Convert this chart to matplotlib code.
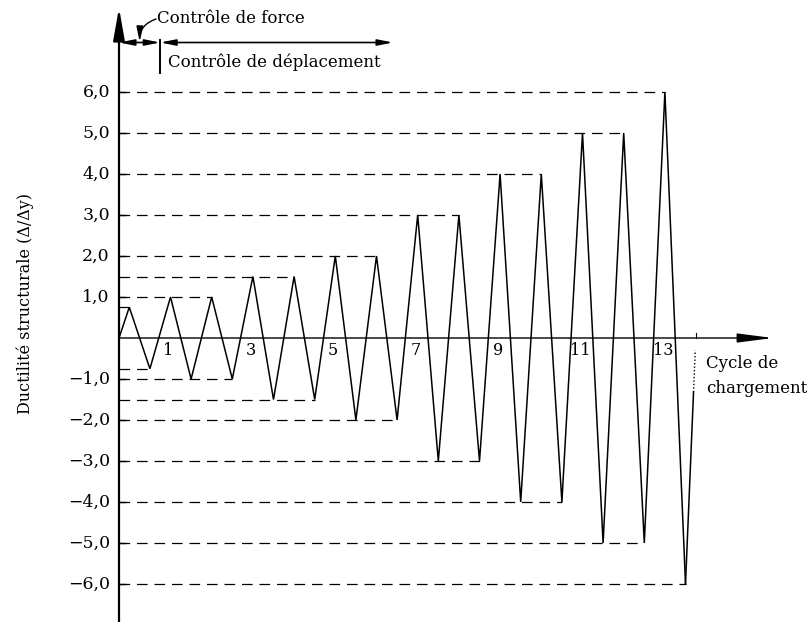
import matplotlib
matplotlib.use('Agg')
import matplotlib.pyplot as plt

# ---- data ----
amplitudes = [0.75, 1.0, 1.0, 1.5, 1.5, 2.0, 2.0, 3.0, 3.0, 4.0, 4.0, 5.0, 5.0, 6.0]
cycle_labels = [1, 3, 5, 7, 9, 11, 13]
ytick_values = [6, 5, 4, 3, 2, 1, -1, -2, -3, -4, -5, -6]
ytick_labels = ['6,0', '5,0', '4,0', '3,0', '2,0', '1,0',
                '\u22121,0', '\u22122,0', '\u22123,0', '\u22124,0', '\u22125,0', '\u22126,0']
force_cycles = 1  # first cycle under force control

plt.rcParams['font.family'] = ['DejaVu Serif']

W, H = 809, 622
fig = plt.figure(figsize=(W / 100, H / 100), dpi=100)
ax = fig.add_axes([0, 0, 1, 1])
ax.axis('off')
px_x, px_y = 41.2, 41.0
x0_px, y0_px = 119, 338
ax.set_xlim(-x0_px / px_x, (W - x0_px) / px_x)
ax.set_ylim(-(H - y0_px) / px_y, y0_px / px_y)
ybot = -(H - y0_px) / px_y

# waveform
xs, ys = [0.0], [0.0]
for k, a in enumerate(amplitudes):
    xs += [k + 0.25, k + 0.75]
    ys += [a, -a]
n = len(amplitudes)
ax.plot(xs, ys, color='k', lw=1.1, solid_joinstyle='miter')
# final return (partly faded / dotted in original)
xa, ya = xs[-1], ys[-1]
xe, ye = n, 0.0
f1, f2 = 0.78, 0.95
ax.plot([xa, xa + (xe - xa) * f1], [ya, ya + (ye - ya) * f1], color='k', lw=1.1)
ax.plot([xa + (xe - xa) * f1, xa + (xe - xa) * f2], [ya + (ye - ya) * f1, ya + (ye - ya) * f2],
        color='k', lw=1.0, ls=(0, (1, 1.5)))

# dashed guide lines to last peak of each amplitude
last = {}
for k, a in enumerate(amplitudes):
    last[a] = k
for a, k in last.items():
    ax.plot([0, k + 0.25], [a, a], color='k', lw=0.9, ls=(0, (8.5, 5.5)))
    ax.plot([0, k + 0.75], [-a, -a], color='k', lw=0.9, ls=(0, (8.5, 5.5)))

# y ticks
for v, lab in zip(ytick_values, ytick_labels):
    ax.plot([0, 0.15], [v, v], color='k', lw=1.0)
    ax.text(-0.22, v, lab, ha='right', va='center', fontsize=12.5)

# axes with arrows
ax.annotate('', xy=(0, 8.05), xytext=(0, ybot),
            arrowprops=dict(arrowstyle='-|>,head_length=1.4,head_width=0.25', mutation_scale=14,
                            lw=1.6, color='k', shrinkA=0, shrinkB=0))
ax.annotate('', xy=(15.87, 0), xytext=(0, 0),
            arrowprops=dict(arrowstyle='-|>,head_length=1.55,head_width=0.2', mutation_scale=14,
                            lw=1.0, color='k', shrinkA=0, shrinkB=0))
ax.plot([n, n], [0, 0.12], color='k', lw=0.8)

# cycle numbers
for c in cycle_labels:
    ax.text(c + 0.2, -0.3, str(c), ha='center', va='center', fontsize=11.5)

ax.text(14.25, -0.62, 'Cycle de', ha='left', va='center', fontsize=12)
ax.text(14.25, -1.22, 'chargement', ha='left', va='center', fontsize=12)

ax.text(-2.28, 0.85, 'Ductilité structurale (\u0394/\u0394y)', rotation=90,
        ha='center', va='center', fontsize=11.5)

# control-mode annotations
ytop = (y0_px - 42.5) / px_y
ax.annotate('', xy=(0, ytop), xytext=(force_cycles, ytop),
            arrowprops=dict(arrowstyle='<|-|>,head_length=0.9,head_width=0.18', mutation_scale=10,
                            lw=1.2, color='k', shrinkA=0, shrinkB=0))
ax.annotate('', xy=(6.65, ytop), xytext=(force_cycles, ytop),
            arrowprops=dict(arrowstyle='<|-|>,head_length=0.9,head_width=0.18', mutation_scale=10,
                            lw=1.2, color='k', shrinkA=0, shrinkB=0))
ax.plot([force_cycles, force_cycles], [ytop + 0.05, (y0_px - 73) / px_y], color='k', lw=1.4)

ax.text(0.92, (y0_px - 18) / px_y, 'Contrôle de force', ha='left', va='center', fontsize=12)
ax.annotate('', xy=(0.5, ytop + 0.02), xytext=(0.9, (y0_px - 19) / px_y),
            arrowprops=dict(arrowstyle='-|>,head_length=0.9,head_width=0.2', mutation_scale=10,
                            lw=1.0, color='k', shrinkA=0, shrinkB=0,
                            connectionstyle='arc3,rad=0.35'))
ax.text(1.19, (y0_px - 62) / px_y, 'Contrôle de déplacement', ha='left', va='center', fontsize=12)

fig.savefig('out.png', dpi=100)
